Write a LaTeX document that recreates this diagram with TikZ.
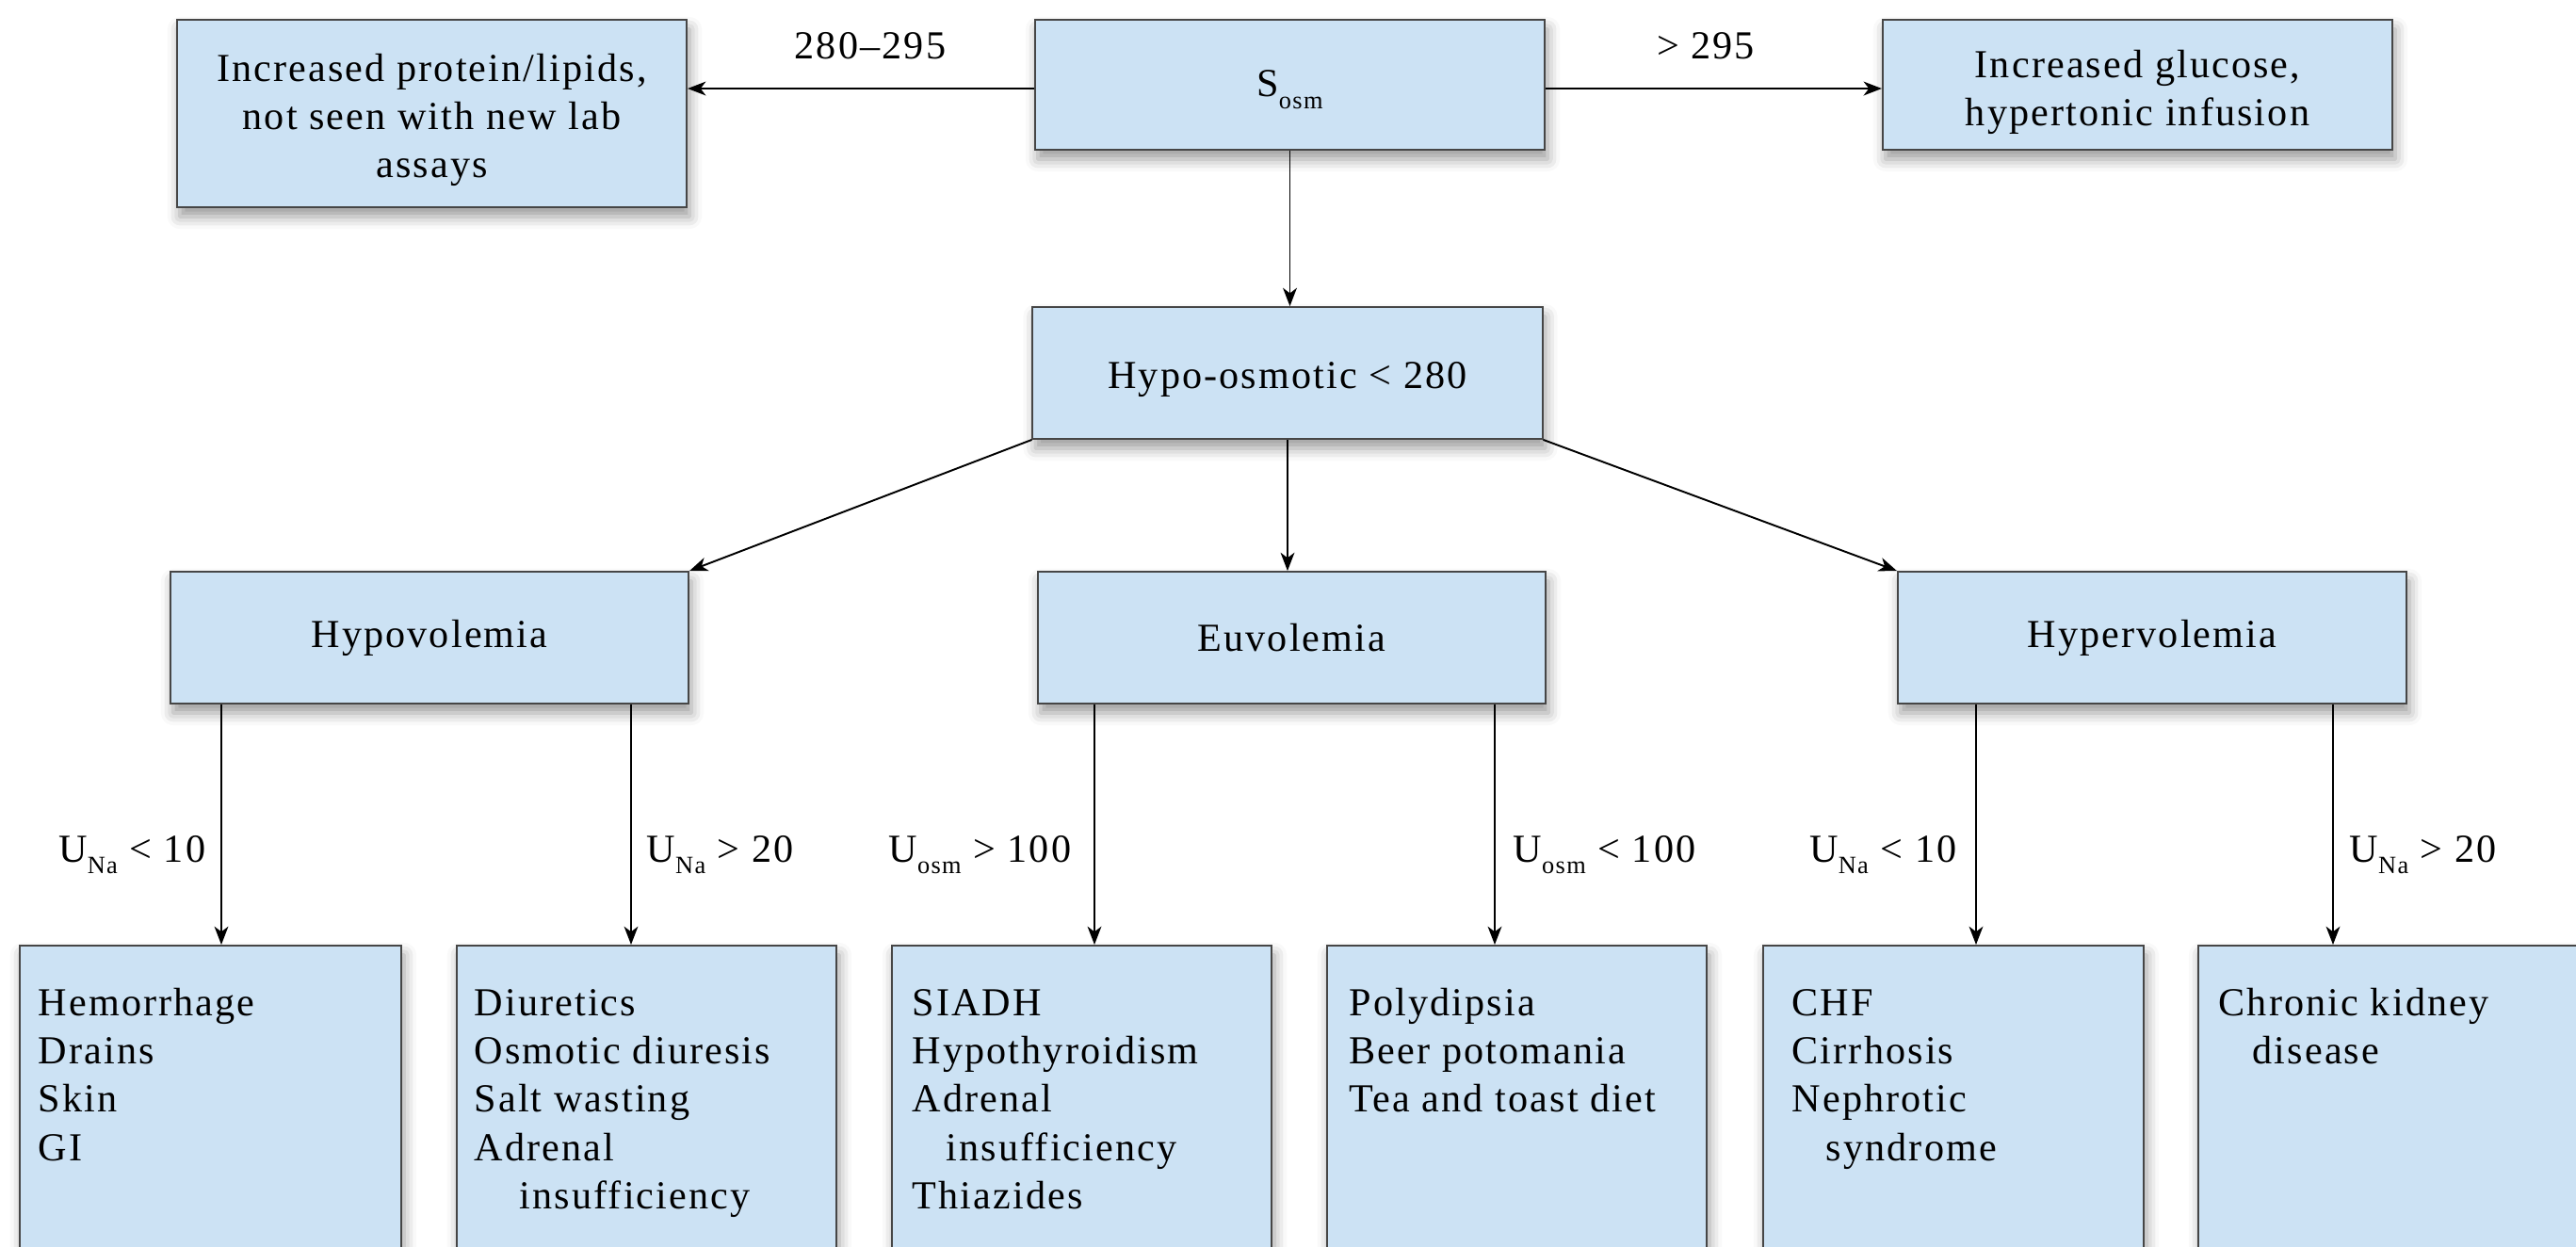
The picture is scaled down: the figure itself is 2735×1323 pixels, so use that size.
\documentclass[tikz,border=0pt]{standalone}
\usepackage{fontspec}
\setmainfont{Liberation Serif}[LetterSpace=5]
\usetikzlibrary{arrows.meta,shadows.blur}
\definecolor{boxfill}{RGB}{204,226,244}
\definecolor{boxline}{RGB}{70,70,70}
\newcommand{\sbs}[1]{\raisebox{-3.6pt}{\fontsize{7.5}{9}\selectfont #1}}
\newcommand{\itemlist}[1]{\parbox[t]{4cm}{\raggedright #1}}
\begin{document}
\begin{tikzpicture}[x=0.01cm,y=-0.01cm,
  txt/.style={font=\fontsize{12}{14.6}\selectfont},
  box/.style={txt, draw=boxline, fill=boxfill, line width=0.5pt, inner sep=0pt,
    align=center,
    blur shadow={shadow xshift=0.03cm, shadow yshift=-0.1cm,
      shadow blur radius=0.13cm, shadow opacity=40}},
  label/.style={txt, inner sep=0pt, align=center},
  arr/.style={line width=0.55pt, -{Stealth[length=5.5pt,width=4.2pt,inset=1.6pt]}},
  cond/.style={txt, inner sep=0pt},
  list/.style={txt, inner sep=0pt, anchor=base west}
]
\useasboundingbox (0,0) rectangle (2735,1323);
\clip (0,0) rectangle (2735,1323);

% top row
\node[box, minimum width=5.41cm, minimum height=1.99cm] (A) at (458.5,120.5) {};
\node[label] (Atxt) at ([yshift=-0.07cm]A.center)
  {Increased protein/lipids,\\ not seen with new lab\\ assays};
\node[box, minimum width=5.41cm, minimum height=1.38cm] (S) at (1369.5,90) {};
\node[label] (Stxt) at ([yshift=-0.05cm]S.center) {S\sbs{osm}};
\node[box, minimum width=5.41cm, minimum height=1.38cm] (C) at (2269.5,90) {};
\node[label] (Ctxt) at ([yshift=-0.08cm]C.center)
  {Increased glucose,\\ hypertonic infusion};

% second row
\node[box, minimum width=5.41cm, minimum height=1.40cm] (H) at (1367,396) {};
\node[label] (Htxt) at ([yshift=-0.07cm]H.center) {Hypo-osmotic < 280};

% volume status
\node[box, minimum width=5.50cm, minimum height=1.40cm] (V1) at (456,677) {Hypovolemia};
\node[box, minimum width=5.39cm, minimum height=1.40cm] (V2) at (1371.5,677) {Euvolemia};
\node[box, minimum width=5.40cm, minimum height=1.40cm] (V3) at (2285,677) {Hypervolemia};

% cause boxes (run past the lower edge)
\node[box, minimum width=4.05cm, minimum height=4.2cm, anchor=north] (B1) at (223.5,1003) {};
\node[box, minimum width=4.03cm, minimum height=4.2cm, anchor=north] (B2) at (686.5,1003) {};
\node[box, minimum width=4.03cm, minimum height=4.2cm, anchor=north] (B3) at (1148.5,1003) {};
\node[box, minimum width=4.03cm, minimum height=4.2cm, anchor=north] (B4) at (1610.5,1003) {};
\node[box, minimum width=4.04cm, minimum height=4.2cm, anchor=north] (B5) at (2074,1003) {};
\node[box, minimum width=4.04cm, minimum height=4.2cm, anchor=north] (B6) at (2536,1003) {};

\node[list] (L1) at (40,1078) {\itemlist{Hemorrhage\\ Drains\\ Skin\\ GI}};
\node[list] (L2) at (503,1078) {\itemlist{Diuretics\\ Osmotic diuresis\\ Salt wasting\\ Adrenal\\ \hspace*{0.48cm}insufficiency}};
\node[list] (L3) at (968,1078) {\itemlist{SIADH\\ Hypothyroidism\\ Adrenal\\ \hspace*{0.36cm}insufficiency\\ Thiazides}};
\node[list] (L4) at (1432,1078) {\itemlist{Polydipsia\\ Beer potomania\\ Tea and toast diet}};
\node[list] (L5) at (1902,1078) {\itemlist{CHF\\ Cirrhosis\\ Nephrotic\\ \hspace*{0.36cm}syndrome}};
\node[list] (L6) at (2355,1078) {\itemlist{Chronic kidney\\ \hspace*{0.36cm}disease}};

% top connectors
\draw[arr] ([yshift=-0.04cm]S.west) -- ([yshift=-0.04cm]S.west -| A.east);
\draw[arr] ([yshift=-0.04cm]S.east) -- ([yshift=-0.04cm]S.east -| C.west);
\node[cond] (t1) at (924,49) {280–295};
\node[cond] (t2) at (1811,49) {> 295};
\draw[arr] (S.south) -- (S.south |- H.north);

\draw[arr] (H.south west) -- (V1.north east);
\draw[arr] (H.south) -- (H.south |- V2.north);
\draw[arr] (H.south east) -- (V3.north west);

% branch columns
\coordinate (c1) at (235,0);
\coordinate (c2) at (670,0);
\coordinate (c3) at (1162,0);
\coordinate (c4) at (1587,0);
\coordinate (c5) at (2098,0);
\coordinate (c6) at (2477,0);
\draw[arr] (V1.south -| c1) -- (B1.north -| c1);
\draw[arr] (V1.south -| c2) -- (B2.north -| c2);
\draw[arr] (V2.south -| c3) -- (B3.north -| c3);
\draw[arr] (V2.south -| c4) -- (B4.north -| c4);
\draw[arr] (V3.south -| c5) -- (B5.north -| c5);
\draw[arr] (V3.south -| c6) -- (B6.north -| c6);

\node[cond, anchor=base east] (u1) at (219,915) {U\sbs{Na} < 10};
\node[cond, anchor=base west] (u2) at (686,915) {U\sbs{Na} > 20};
\node[cond, anchor=base east] (u3) at (1138,915) {U\sbs{osm} > 100};
\node[cond, anchor=base west] (u4) at (1606,915) {U\sbs{osm} < 100};
\node[cond, anchor=base east] (u5) at (2078,915) {U\sbs{Na} < 10};
\node[cond, anchor=base west] (u6) at (2494,915) {U\sbs{Na} > 20};
\end{tikzpicture}
\end{document}
